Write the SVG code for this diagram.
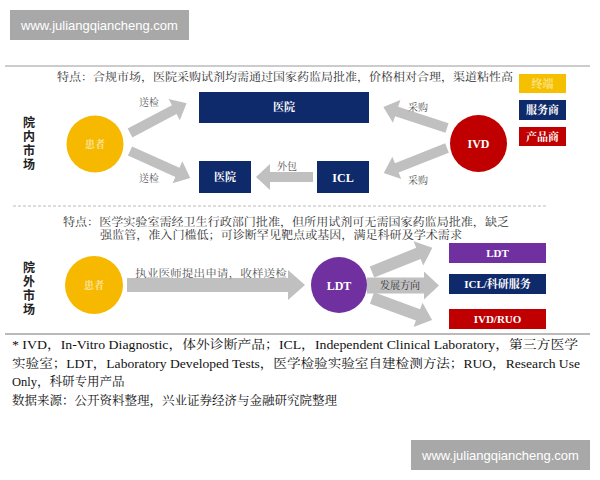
<svg xmlns="http://www.w3.org/2000/svg" width="600" height="480" viewBox="0 0 600 480">
<style>
.wm{fill:#a8a8a8}
.wmt{font-family:"Liberation Sans",Arial,sans-serif;font-size:13px;fill:#fff}
.cjk{font-family:"Liberation Serif","Noto Serif CJK SC","Noto Sans CJK SC",serif}
.feat{font-size:11px;fill:#333}
.lbl{font-size:10px;fill:#555}
.side{font-family:"Noto Sans CJK SC",sans-serif;font-size:12px;font-weight:bold;fill:#222;writing-mode:vertical-rl;letter-spacing:2px}
.bt{font-size:11px;font-weight:bold;fill:#fff;text-anchor:middle}
.arr{fill:#c0c0c0}
.foot{font-size:12.5px;fill:#111}
.navy{fill:#0f2a6b}
</style>
<rect class="wm" x="10" y="10" width="179" height="30"/>
<text class="wmt" x="99.5" y="29.5" text-anchor="middle">www.juliangqiancheng.com</text>

<line x1="5" y1="66" x2="590" y2="66" stroke="#9a9a9a" stroke-width="1.2"/>
<text class="cjk feat" x="57" y="81" textLength="456" lengthAdjust="spacingAndGlyphs">特点：合规市场，医院采购试剂均需通过国家药监局批准，价格相对合理，渠道粘性高</text>

<g id="legend">
<rect x="519" y="74" width="47" height="19" fill="#f5c000"/>
<text class="cjk bt" x="542.5" y="87.5" style="fill:#fbe38a">终端</text>
<rect x="519" y="100" width="47" height="20" class="navy"/>
<text class="cjk bt" x="542.5" y="114">服务商</text>
<rect x="519" y="127" width="47" height="19" fill="#c00000"/>
<text class="cjk bt" x="542.5" y="140.5">产品商</text>
</g>

<g id="side1">
<text class="side" x="29" y="116">院内市场</text>
</g>

<g id="connectors">
<path class="arr" transform="translate(130,133) rotate(-27.8)" d="M0,-5 H50 V-12 L64,0 L50,12 V5 H0Z"/>
<path class="arr" transform="translate(130,151) rotate(24.2)" d="M0,-5 H52 V-12 L66,0 L52,12 V5 H0Z"/>
<path class="arr" transform="translate(447,128) rotate(-161.8)" d="M0,-5 H53 V-12 L67,0 L53,12 V5 H0Z"/>
<path class="arr" transform="translate(447,148) rotate(158.4)" d="M0,-5 H54 V-12 L68,0 L54,12 V5 H0Z"/>
<path class="arr" transform="translate(313,177) rotate(180)" d="M0,-5 H43 V-13 L57,0 L43,13 V5 H0Z"/>
<path class="arr" transform="translate(127,285)" d="M0,-7 H161 V-15 L178,0 L161,15 V7 H0Z"/>
<path class="arr" transform="translate(372,272) rotate(-21.8)" d="M0,-6 H50 V-13 L65,0 L50,13 V6 H0Z"/>
<path class="arr" transform="translate(367,285.5)" d="M0,-8 H57 V-14 L72,0 L57,14 V8 H0Z"/>
<path class="arr" transform="translate(372,298) rotate(20.1)" d="M0,-6 H49 V-13 L64,0 L49,13 V6 H0Z"/>
<text class="cjk lbl" x="139" y="106">送检</text>
<text class="cjk lbl" x="139" y="182">送检</text>
<text class="cjk lbl" x="408" y="111">采购</text>
<text class="cjk lbl" x="408" y="184">采购</text>
<text class="cjk lbl" x="277" y="170">外包</text>
<text class="cjk lbl" x="135" y="277" textLength="152" lengthAdjust="spacingAndGlyphs">执业医师提出申请，收样送检</text>
<text class="cjk lbl" x="380" y="289" style="fill:#333">发展方向</text>
</g>

<g id="patient1">
<circle cx="95" cy="144" r="28.5" fill="#f6b900"/>
<text class="cjk bt" x="95" y="148" style="fill:#fde3a0;font-size:10px">患者</text>
</g>
<g id="hospital1">
<rect x="199" y="92" width="170" height="31" class="navy"/>
<text class="cjk bt" x="284" y="111">医院</text>
</g>
<g id="hospital2">
<rect x="199" y="161" width="52" height="32" class="navy"/>
<text class="cjk bt" x="225" y="181">医院</text>
</g>
<g id="icl">
<rect x="317" y="161" width="52" height="32" class="navy"/>
<text class="cjk bt" x="343" y="181.5" style="font-size:12px">ICL</text>
</g>
<g id="ivd">
<circle cx="478.5" cy="143.5" r="28.5" fill="#c00000"/>
<text class="cjk bt" x="478.5" y="148" style="font-size:12px">IVD</text>
</g>

<line x1="13" y1="206" x2="547" y2="206" stroke="#bbb" stroke-width="1.2" stroke-dasharray="3,2"/>
<text class="cjk feat" x="63" y="226" textLength="446" lengthAdjust="spacingAndGlyphs">特点：医学实验室需经卫生行政部门批准，但所用试剂可无需国家药监局批准，缺乏</text>
<text class="cjk feat" x="100" y="239" textLength="362" lengthAdjust="spacingAndGlyphs">强监管，准入门槛低；可诊断罕见靶点或基因，满足科研及学术需求</text>

<g id="side2">
<text class="side" x="29" y="261">院外市场</text>
</g>

<g id="patient2">
<circle cx="94" cy="285" r="29" fill="#f6b900"/>
<text class="cjk bt" x="94" y="289" style="fill:#fde3a0;font-size:10px">患者</text>
</g>
<g id="ldt">
<circle cx="339" cy="285" r="28" fill="#7030a0"/>
<text class="cjk bt" x="339" y="289.5" style="font-size:12px">LDT</text>
</g>
<g id="ldt-box">
<rect x="449" y="243" width="97" height="20" fill="#7030a0"/>
<text class="cjk bt" x="497.5" y="257">LDT</text>
</g>
<g id="icl-box">
<rect x="449" y="274" width="97" height="20" class="navy"/>
<text class="cjk bt" x="497.5" y="288">ICL/科研服务</text>
</g>
<g id="ivdruo-box">
<rect x="449" y="309" width="97" height="20" fill="#c00000"/>
<text class="cjk bt" x="497.5" y="323">IVD/RUO</text>
</g>

<line x1="5" y1="334" x2="590" y2="334" stroke="#777" stroke-width="1.2"/>
<text class="cjk foot" x="12" y="349" textLength="566" lengthAdjust="spacingAndGlyphs">* IVD，In-Vitro Diagnostic，体外诊断产品；ICL，Independent Clinical Laboratory，第三方医学</text>
<text class="cjk foot" x="12" y="368" textLength="568" lengthAdjust="spacingAndGlyphs">实验室；LDT，Laboratory Developed Tests，医学检验实验室自建检测方法；RUO，Research Use</text>
<text class="cjk foot" x="12" y="386">Only，科研专用产品</text>
<text class="cjk foot" x="12" y="405">数据来源：公开资料整理，兴业证券经济与金融研究院整理</text>

<rect class="wm" x="411" y="440" width="179" height="30"/>
<text class="wmt" x="500.5" y="459.5" text-anchor="middle">www.juliangqiancheng.com</text>
</svg>
